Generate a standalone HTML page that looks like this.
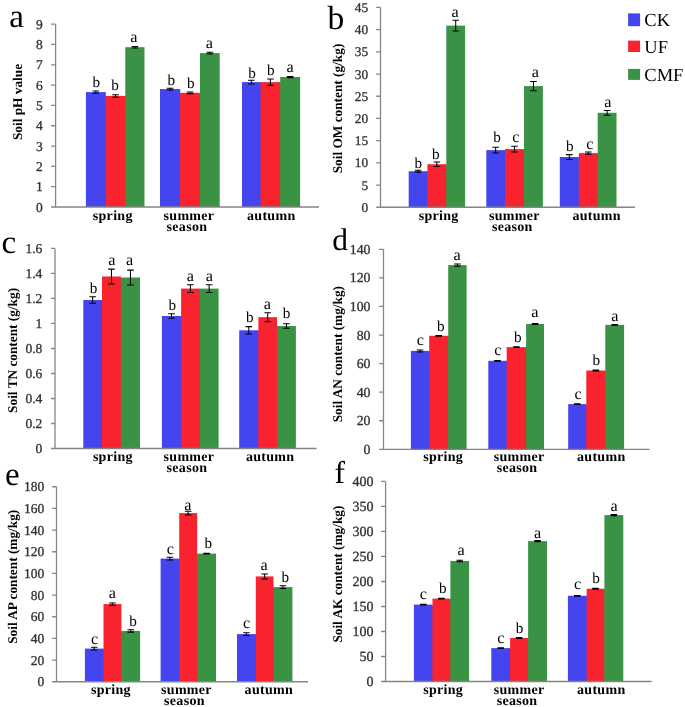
<!DOCTYPE html><html><head><meta charset="utf-8"><style>html,body{margin:0;padding:0;background:#fff;}svg{display:block;filter:blur(0.5px);}text{font-family:"Liberation Serif",serif;text-rendering:geometricPrecision;}</style></head><body>
<svg width="685" height="707" viewBox="0 0 685 707">
<rect width="685" height="707" fill="#fff"/>
<rect x="104.8" y="96.4" width="2" height="110.6" fill="#9E2C90"/>
<rect x="124.3" y="96.4" width="2" height="110.6" fill="#995B3A"/>
<rect x="85.9" y="92.1" width="19.9" height="114.9" fill="#4545F0"/>
<rect x="105.8" y="95.9" width="19.5" height="111.1" fill="#F8232F"/>
<rect x="125.3" y="47.2" width="19.2" height="159.8" fill="#3A9245"/>
<rect x="179.2" y="93.3" width="2" height="113.7" fill="#9E2C90"/>
<rect x="199" y="93.3" width="2" height="113.7" fill="#995B3A"/>
<rect x="160" y="89.05" width="20.2" height="117.95" fill="#4545F0"/>
<rect x="180.2" y="92.8" width="19.8" height="114.2" fill="#F8232F"/>
<rect x="200" y="53.1" width="19.7" height="153.9" fill="#3A9245"/>
<rect x="259.6" y="82.6" width="2" height="124.4" fill="#9E2C90"/>
<rect x="279.2" y="82.6" width="2" height="124.4" fill="#995B3A"/>
<rect x="242" y="82.1" width="18.6" height="124.9" fill="#4545F0"/>
<rect x="260.6" y="82.1" width="19.6" height="124.9" fill="#F8232F"/>
<rect x="280.2" y="77" width="19.9" height="130" fill="#3A9245"/>
<path d="M55.6 24.15V207" stroke="#858585" stroke-width="1.3" fill="none"/>
<path d="M51.1 207H319" stroke="#858585" stroke-width="1.3" fill="none"/>
<path d="M51.1 24.15H55.6M51.1 44.47H55.6M51.1 64.78H55.6M51.1 85.1H55.6M51.1 105.42H55.6M51.1 125.73H55.6M51.1 146.05H55.6M51.1 166.37H55.6M51.1 186.68H55.6" stroke="#858585" stroke-width="1.3" fill="none"/>
<text x="42.85" y="211.6" font-size="13.5" fill="#303030" stroke="#303030" stroke-width="0.3" text-anchor="end">0</text>
<text x="42.85" y="191.28" font-size="13.5" fill="#303030" stroke="#303030" stroke-width="0.3" text-anchor="end">1</text>
<text x="42.85" y="170.97" font-size="13.5" fill="#303030" stroke="#303030" stroke-width="0.3" text-anchor="end">2</text>
<text x="42.85" y="150.65" font-size="13.5" fill="#303030" stroke="#303030" stroke-width="0.3" text-anchor="end">3</text>
<text x="42.85" y="130.33" font-size="13.5" fill="#303030" stroke="#303030" stroke-width="0.3" text-anchor="end">4</text>
<text x="42.85" y="110.02" font-size="13.5" fill="#303030" stroke="#303030" stroke-width="0.3" text-anchor="end">5</text>
<text x="42.85" y="89.7" font-size="13.5" fill="#303030" stroke="#303030" stroke-width="0.3" text-anchor="end">6</text>
<text x="42.85" y="69.38" font-size="13.5" fill="#303030" stroke="#303030" stroke-width="0.3" text-anchor="end">7</text>
<text x="42.85" y="49.07" font-size="13.5" fill="#303030" stroke="#303030" stroke-width="0.3" text-anchor="end">8</text>
<text x="42.85" y="28.75" font-size="13.5" fill="#303030" stroke="#303030" stroke-width="0.3" text-anchor="end">9</text>
<path d="M95.85 90.9V93.3M92.55 90.9H99.15M92.55 93.3H99.15" stroke="#000" stroke-width="1.05" fill="none"/>
<text x="96.35" y="86.7" font-size="15.2" text-anchor="middle" fill="#000">b</text>
<path d="M115.55 94.65V97.15M112.25 94.65H118.85M112.25 97.15H118.85" stroke="#000" stroke-width="1.05" fill="none"/>
<text x="115" y="89.6" font-size="15.2" text-anchor="middle" fill="#000">b</text>
<path d="M134.9 46.4V48M131.6 46.4H138.2M131.6 48H138.2" stroke="#000" stroke-width="1.05" fill="none"/>
<text x="133.95" y="41.8" font-size="16.2" text-anchor="middle" fill="#000">a</text>
<path d="M170.1 88.15V89.95M166.8 88.15H173.4M166.8 89.95H173.4" stroke="#000" stroke-width="1.05" fill="none"/>
<text x="171.2" y="85.2" font-size="15.2" text-anchor="middle" fill="#000">b</text>
<path d="M190.1 92V93.6M186.8 92H193.4M186.8 93.6H193.4" stroke="#000" stroke-width="1.05" fill="none"/>
<text x="190.9" y="87.7" font-size="15.2" text-anchor="middle" fill="#000">b</text>
<path d="M209.85 52.2V54M206.55 52.2H213.15M206.55 54H213.15" stroke="#000" stroke-width="1.05" fill="none"/>
<text x="209.4" y="48.4" font-size="16.2" text-anchor="middle" fill="#000">a</text>
<path d="M251.3 80.3V83.9M248 80.3H254.6M248 83.9H254.6" stroke="#000" stroke-width="1.05" fill="none"/>
<text x="252" y="77.5" font-size="15.2" text-anchor="middle" fill="#000">b</text>
<path d="M270.4 78.9V85.3M267.1 78.9H273.7M267.1 85.3H273.7" stroke="#000" stroke-width="1.05" fill="none"/>
<text x="270.8" y="75.1" font-size="15.2" text-anchor="middle" fill="#000">b</text>
<path d="M290.15 76.4V77.6M286.85 76.4H293.45M286.85 77.6H293.45" stroke="#000" stroke-width="1.05" fill="none"/>
<text x="290.2" y="72.1" font-size="16.2" text-anchor="middle" fill="#000">a</text>
<text x="112.75" y="219.6" font-size="14" font-weight="bold" letter-spacing="0.3" text-anchor="middle" fill="#000">spring</text>
<text x="188.95" y="219.6" font-size="14" font-weight="bold" letter-spacing="0.3" text-anchor="middle" fill="#000">summer</text>
<text x="186.95" y="230.6" font-size="14" font-weight="bold" letter-spacing="0.3" text-anchor="middle" fill="#000">season</text>
<text x="271.25" y="219.6" font-size="14" font-weight="bold" letter-spacing="0.3" text-anchor="middle" fill="#000">autumn</text>
<text transform="translate(22 102) rotate(-90)" font-size="13.3" font-weight="bold" text-anchor="middle" fill="#000">Soil pH value</text>
<text x="9.3" y="26.5" font-size="33" fill="#000">a</text>
<rect x="426.4" y="171.7" width="2" height="35.55" fill="#9E2C90"/>
<rect x="445.3" y="164.7" width="2" height="42.55" fill="#995B3A"/>
<rect x="408.7" y="171.2" width="18.7" height="36.05" fill="#4545F0"/>
<rect x="427.4" y="164.2" width="18.9" height="43.05" fill="#F8232F"/>
<rect x="446.3" y="25.6" width="18.8" height="181.65" fill="#3A9245"/>
<rect x="504" y="150.6" width="2" height="56.65" fill="#9E2C90"/>
<rect x="523" y="149.6" width="2" height="57.65" fill="#995B3A"/>
<rect x="486.3" y="150.1" width="18.7" height="57.15" fill="#4545F0"/>
<rect x="505" y="149.1" width="19" height="58.15" fill="#F8232F"/>
<rect x="524" y="86.1" width="18.9" height="121.15" fill="#3A9245"/>
<rect x="577.9" y="157.5" width="2" height="49.75" fill="#9E2C90"/>
<rect x="596.7" y="153.6" width="2" height="53.65" fill="#995B3A"/>
<rect x="559.8" y="157" width="19.1" height="50.25" fill="#4545F0"/>
<rect x="578.9" y="153.1" width="18.8" height="54.15" fill="#F8232F"/>
<rect x="597.7" y="112.8" width="18.8" height="94.45" fill="#3A9245"/>
<path d="M380.5 7.45V207.25" stroke="#858585" stroke-width="1.3" fill="none"/>
<path d="M376.2 207.25H635" stroke="#858585" stroke-width="1.3" fill="none"/>
<path d="M376.2 7.45H380.5M376.2 29.65H380.5M376.2 51.85H380.5M376.2 74.05H380.5M376.2 96.25H380.5M376.2 118.45H380.5M376.2 140.65H380.5M376.2 162.85H380.5M376.2 185.05H380.5" stroke="#858585" stroke-width="1.3" fill="none"/>
<text x="368.05" y="211.85" font-size="13.3" fill="#303030" stroke="#303030" stroke-width="0.3" text-anchor="end">0</text>
<text x="368.05" y="189.65" font-size="13.3" fill="#303030" stroke="#303030" stroke-width="0.3" text-anchor="end">5</text>
<text x="368.05" y="167.45" font-size="13.3" fill="#303030" stroke="#303030" stroke-width="0.3" text-anchor="end">10</text>
<text x="368.05" y="145.25" font-size="13.3" fill="#303030" stroke="#303030" stroke-width="0.3" text-anchor="end">15</text>
<text x="368.05" y="123.05" font-size="13.3" fill="#303030" stroke="#303030" stroke-width="0.3" text-anchor="end">20</text>
<text x="368.05" y="100.85" font-size="13.3" fill="#303030" stroke="#303030" stroke-width="0.3" text-anchor="end">25</text>
<text x="368.05" y="78.65" font-size="13.3" fill="#303030" stroke="#303030" stroke-width="0.3" text-anchor="end">30</text>
<text x="368.05" y="56.45" font-size="13.3" fill="#303030" stroke="#303030" stroke-width="0.3" text-anchor="end">35</text>
<text x="368.05" y="34.25" font-size="13.3" fill="#303030" stroke="#303030" stroke-width="0.3" text-anchor="end">40</text>
<text x="368.05" y="12.05" font-size="13.3" fill="#303030" stroke="#303030" stroke-width="0.3" text-anchor="end">45</text>
<path d="M418.05 170.3V172.1M414.75 170.3H421.35M414.75 172.1H421.35" stroke="#000" stroke-width="1.05" fill="none"/>
<text x="418.4" y="167.6" font-size="15.2" text-anchor="middle" fill="#000">b</text>
<path d="M436.85 161.9V166.5M433.55 161.9H440.15M433.55 166.5H440.15" stroke="#000" stroke-width="1.05" fill="none"/>
<text x="435.9" y="158.6" font-size="15.2" text-anchor="middle" fill="#000">b</text>
<path d="M455.7 20.2V31M452.4 20.2H459M452.4 31H459" stroke="#000" stroke-width="1.05" fill="none"/>
<text x="455.1" y="17" font-size="16.2" text-anchor="middle" fill="#000">a</text>
<path d="M495.65 147.3V152.9M492.35 147.3H498.95M492.35 152.9H498.95" stroke="#000" stroke-width="1.05" fill="none"/>
<text x="497.1" y="142.2" font-size="15.2" text-anchor="middle" fill="#000">b</text>
<path d="M514.5 146.2V152M511.2 146.2H517.8M511.2 152H517.8" stroke="#000" stroke-width="1.05" fill="none"/>
<text x="515.95" y="141.9" font-size="16.2" text-anchor="middle" fill="#000">c</text>
<path d="M533.45 81.4V90.8M530.15 81.4H536.75M530.15 90.8H536.75" stroke="#000" stroke-width="1.05" fill="none"/>
<text x="535.25" y="77.1" font-size="16.2" text-anchor="middle" fill="#000">a</text>
<path d="M569.35 154.6V159.4M566.05 154.6H572.65M566.05 159.4H572.65" stroke="#000" stroke-width="1.05" fill="none"/>
<text x="569.85" y="151.2" font-size="15.2" text-anchor="middle" fill="#000">b</text>
<path d="M588.3 152V154.2M585 152H591.6M585 154.2H591.6" stroke="#000" stroke-width="1.05" fill="none"/>
<text x="589.8" y="148.5" font-size="16.2" text-anchor="middle" fill="#000">c</text>
<path d="M607.1 110.4V115.2M603.8 110.4H610.4M603.8 115.2H610.4" stroke="#000" stroke-width="1.05" fill="none"/>
<text x="607.8" y="107" font-size="16.2" text-anchor="middle" fill="#000">a</text>
<text x="438.65" y="219.6" font-size="14" font-weight="bold" letter-spacing="0.3" text-anchor="middle" fill="#000">spring</text>
<text x="514.35" y="219.6" font-size="14" font-weight="bold" letter-spacing="0.3" text-anchor="middle" fill="#000">summer</text>
<text x="512.35" y="230.6" font-size="14" font-weight="bold" letter-spacing="0.3" text-anchor="middle" fill="#000">season</text>
<text x="596.65" y="219.6" font-size="14" font-weight="bold" letter-spacing="0.3" text-anchor="middle" fill="#000">autumn</text>
<text transform="translate(342 108.5) rotate(-90)" font-size="13.3" font-weight="bold" text-anchor="middle" fill="#000">Soil OM content (g/kg)</text>
<text x="327.5" y="28.8" font-size="33.5" fill="#000">b</text>
<rect x="101" y="300.5" width="2" height="148" fill="#9E2C90"/>
<rect x="119.9" y="278" width="2" height="170.5" fill="#995B3A"/>
<rect x="83.3" y="300" width="18.7" height="148.5" fill="#4545F0"/>
<rect x="102" y="276.5" width="18.9" height="172" fill="#F8232F"/>
<rect x="120.9" y="277.5" width="19.1" height="171" fill="#3A9245"/>
<rect x="180.1" y="316.5" width="2" height="132" fill="#9E2C90"/>
<rect x="198.7" y="289.1" width="2" height="159.4" fill="#995B3A"/>
<rect x="161.9" y="316" width="19.2" height="132.5" fill="#4545F0"/>
<rect x="181.1" y="288.6" width="18.6" height="159.9" fill="#F8232F"/>
<rect x="199.7" y="288.6" width="18.9" height="159.9" fill="#3A9245"/>
<rect x="257.4" y="330.8" width="2" height="117.7" fill="#9E2C90"/>
<rect x="276" y="326.5" width="2" height="122" fill="#995B3A"/>
<rect x="239.2" y="330.3" width="19.2" height="118.2" fill="#4545F0"/>
<rect x="258.4" y="317.2" width="18.6" height="131.3" fill="#F8232F"/>
<rect x="277" y="326" width="18.9" height="122.5" fill="#3A9245"/>
<path d="M55 248.45V448.5" stroke="#858585" stroke-width="1.3" fill="none"/>
<path d="M51 448.5H316.6" stroke="#858585" stroke-width="1.3" fill="none"/>
<path d="M51 248.45H55M51 273.46H55M51 298.46H55M51 323.47H55M51 348.48H55M51 373.48H55M51 398.49H55M51 423.49H55" stroke="#858585" stroke-width="1.3" fill="none"/>
<text x="42.25" y="453.1" font-size="13.5" fill="#303030" stroke="#303030" stroke-width="0.3" text-anchor="end">0</text>
<text x="42.25" y="428.09" font-size="13.5" fill="#303030" stroke="#303030" stroke-width="0.3" text-anchor="end">0.2</text>
<text x="42.25" y="403.09" font-size="13.5" fill="#303030" stroke="#303030" stroke-width="0.3" text-anchor="end">0.4</text>
<text x="42.25" y="378.08" font-size="13.5" fill="#303030" stroke="#303030" stroke-width="0.3" text-anchor="end">0.6</text>
<text x="42.25" y="353.08" font-size="13.5" fill="#303030" stroke="#303030" stroke-width="0.3" text-anchor="end">0.8</text>
<text x="42.25" y="328.07" font-size="13.5" fill="#303030" stroke="#303030" stroke-width="0.3" text-anchor="end">1</text>
<text x="42.25" y="303.06" font-size="13.5" fill="#303030" stroke="#303030" stroke-width="0.3" text-anchor="end">1.2</text>
<text x="42.25" y="278.06" font-size="13.5" fill="#303030" stroke="#303030" stroke-width="0.3" text-anchor="end">1.4</text>
<text x="42.25" y="253.05" font-size="13.5" fill="#303030" stroke="#303030" stroke-width="0.3" text-anchor="end">1.6</text>
<path d="M92.65 296.8V303.2M89.35 296.8H95.95M89.35 303.2H95.95" stroke="#000" stroke-width="1.05" fill="none"/>
<text x="93.6" y="292.5" font-size="15.2" text-anchor="middle" fill="#000">b</text>
<path d="M111.45 269.1V283.9M108.15 269.1H114.75M108.15 283.9H114.75" stroke="#000" stroke-width="1.05" fill="none"/>
<text x="111.85" y="264.9" font-size="16.2" text-anchor="middle" fill="#000">a</text>
<path d="M130.45 270.1V284.9M127.15 270.1H133.75M127.15 284.9H133.75" stroke="#000" stroke-width="1.05" fill="none"/>
<text x="129.7" y="264.9" font-size="16.2" text-anchor="middle" fill="#000">a</text>
<path d="M171.5 313.7V318.3M168.2 313.7H174.8M168.2 318.3H174.8" stroke="#000" stroke-width="1.05" fill="none"/>
<text x="172.4" y="310.1" font-size="15.2" text-anchor="middle" fill="#000">b</text>
<path d="M190.4 284.8V292.4M187.1 284.8H193.7M187.1 292.4H193.7" stroke="#000" stroke-width="1.05" fill="none"/>
<text x="190.4" y="280.6" font-size="16.2" text-anchor="middle" fill="#000">a</text>
<path d="M209.15 284.8V292.4M205.85 284.8H212.45M205.85 292.4H212.45" stroke="#000" stroke-width="1.05" fill="none"/>
<text x="209.25" y="280.6" font-size="16.2" text-anchor="middle" fill="#000">a</text>
<path d="M248.8 326.6V334M245.5 326.6H252.1M245.5 334H252.1" stroke="#000" stroke-width="1.05" fill="none"/>
<text x="249.9" y="321.6" font-size="15.2" text-anchor="middle" fill="#000">b</text>
<path d="M267.7 312.7V321.7M264.4 312.7H271M264.4 321.7H271" stroke="#000" stroke-width="1.05" fill="none"/>
<text x="267.25" y="308.5" font-size="16.2" text-anchor="middle" fill="#000">a</text>
<path d="M286.45 323.8V328.2M283.15 323.8H289.75M283.15 328.2H289.75" stroke="#000" stroke-width="1.05" fill="none"/>
<text x="286.55" y="318.2" font-size="15.2" text-anchor="middle" fill="#000">b</text>
<text x="112.85" y="461" font-size="14" font-weight="bold" letter-spacing="0.3" text-anchor="middle" fill="#000">spring</text>
<text x="188.95" y="461" font-size="14" font-weight="bold" letter-spacing="0.3" text-anchor="middle" fill="#000">summer</text>
<text x="186.95" y="472" font-size="14" font-weight="bold" letter-spacing="0.3" text-anchor="middle" fill="#000">season</text>
<text x="270.15" y="461" font-size="14" font-weight="bold" letter-spacing="0.3" text-anchor="middle" fill="#000">autumn</text>
<text transform="translate(17 350.4) rotate(-90)" font-size="13.3" font-weight="bold" text-anchor="middle" fill="#000">Soil TN content (g/kg)</text>
<text x="1.6" y="253.2" font-size="33" fill="#000">c</text>
<rect x="428.2" y="351.4" width="2" height="97.95" fill="#9E2C90"/>
<rect x="447.2" y="336.3" width="2" height="113.05" fill="#995B3A"/>
<rect x="410.9" y="350.9" width="18.3" height="98.45" fill="#4545F0"/>
<rect x="429.2" y="335.8" width="19" height="113.55" fill="#F8232F"/>
<rect x="448.2" y="265.1" width="18.4" height="184.25" fill="#3A9245"/>
<rect x="505.7" y="361.3" width="2" height="88.05" fill="#9E2C90"/>
<rect x="525.1" y="347.6" width="2" height="101.75" fill="#995B3A"/>
<rect x="488.3" y="360.8" width="18.4" height="88.55" fill="#4545F0"/>
<rect x="506.7" y="347.1" width="19.4" height="102.25" fill="#F8232F"/>
<rect x="526.1" y="324" width="17.9" height="125.35" fill="#3A9245"/>
<rect x="585.3" y="404.6" width="2" height="44.75" fill="#9E2C90"/>
<rect x="604.3" y="371" width="2" height="78.35" fill="#995B3A"/>
<rect x="568.2" y="404.1" width="18.1" height="45.25" fill="#4545F0"/>
<rect x="586.3" y="370.5" width="19" height="78.85" fill="#F8232F"/>
<rect x="605.3" y="324.9" width="18.8" height="124.45" fill="#3A9245"/>
<path d="M383.5 249.3V449.35" stroke="#858585" stroke-width="1.3" fill="none"/>
<path d="M379.1 449.35H649.6" stroke="#858585" stroke-width="1.3" fill="none"/>
<path d="M379.1 249.3H383.5M379.1 277.88H383.5M379.1 306.46H383.5M379.1 335.04H383.5M379.1 363.61H383.5M379.1 392.19H383.5M379.1 420.77H383.5" stroke="#858585" stroke-width="1.3" fill="none"/>
<text x="370.45" y="453.95" font-size="13.8" fill="#303030" stroke="#303030" stroke-width="0.3" text-anchor="end">0</text>
<text x="370.45" y="425.37" font-size="13.8" fill="#303030" stroke="#303030" stroke-width="0.3" text-anchor="end">20</text>
<text x="370.45" y="396.79" font-size="13.8" fill="#303030" stroke="#303030" stroke-width="0.3" text-anchor="end">40</text>
<text x="370.45" y="368.21" font-size="13.8" fill="#303030" stroke="#303030" stroke-width="0.3" text-anchor="end">60</text>
<text x="370.45" y="339.64" font-size="13.8" fill="#303030" stroke="#303030" stroke-width="0.3" text-anchor="end">80</text>
<text x="370.45" y="311.06" font-size="13.8" fill="#303030" stroke="#303030" stroke-width="0.3" text-anchor="end">100</text>
<text x="370.45" y="282.48" font-size="13.8" fill="#303030" stroke="#303030" stroke-width="0.3" text-anchor="end">120</text>
<text x="370.45" y="253.9" font-size="13.8" fill="#303030" stroke="#303030" stroke-width="0.3" text-anchor="end">140</text>
<path d="M420.05 349.9V351.9M416.75 349.9H423.35M416.75 351.9H423.35" stroke="#000" stroke-width="1.05" fill="none"/>
<text x="420.25" y="344.5" font-size="16.2" text-anchor="middle" fill="#000">c</text>
<path d="M438.7 335.4V336.2M435.4 335.4H442M435.4 336.2H442" stroke="#000" stroke-width="1.05" fill="none"/>
<text x="440.8" y="331.2" font-size="15.2" text-anchor="middle" fill="#000">b</text>
<path d="M457.4 264V266.2M454.1 264H460.7M454.1 266.2H460.7" stroke="#000" stroke-width="1.05" fill="none"/>
<text x="457.05" y="259.8" font-size="16.2" text-anchor="middle" fill="#000">a</text>
<path d="M497.5 360.4V361.2M494.2 360.4H500.8M494.2 361.2H500.8" stroke="#000" stroke-width="1.05" fill="none"/>
<text x="497.95" y="354.7" font-size="16.2" text-anchor="middle" fill="#000">c</text>
<path d="M516.4 346.7V347.5M513.1 346.7H519.7M513.1 347.5H519.7" stroke="#000" stroke-width="1.05" fill="none"/>
<text x="517.75" y="342.4" font-size="15.2" text-anchor="middle" fill="#000">b</text>
<path d="M535.05 323.6V324.4M531.75 323.6H538.35M531.75 324.4H538.35" stroke="#000" stroke-width="1.05" fill="none"/>
<text x="534.8" y="317.2" font-size="16.2" text-anchor="middle" fill="#000">a</text>
<path d="M577.25 403.7V404.5M573.95 403.7H580.55M573.95 404.5H580.55" stroke="#000" stroke-width="1.05" fill="none"/>
<text x="578.05" y="399.3" font-size="16.2" text-anchor="middle" fill="#000">c</text>
<path d="M595.8 370.1V370.9M592.5 370.1H599.1M592.5 370.9H599.1" stroke="#000" stroke-width="1.05" fill="none"/>
<text x="596.35" y="365.4" font-size="15.2" text-anchor="middle" fill="#000">b</text>
<path d="M614.7 324.5V325.3M611.4 324.5H618M611.4 325.3H618" stroke="#000" stroke-width="1.05" fill="none"/>
<text x="614.8" y="321.2" font-size="16.2" text-anchor="middle" fill="#000">a</text>
<text x="443.15" y="461" font-size="14" font-weight="bold" letter-spacing="0.3" text-anchor="middle" fill="#000">spring</text>
<text x="519.05" y="461" font-size="14" font-weight="bold" letter-spacing="0.3" text-anchor="middle" fill="#000">summer</text>
<text x="517.05" y="472" font-size="14" font-weight="bold" letter-spacing="0.3" text-anchor="middle" fill="#000">season</text>
<text x="601.25" y="461" font-size="14" font-weight="bold" letter-spacing="0.3" text-anchor="middle" fill="#000">autumn</text>
<text transform="translate(342 354.2) rotate(-90)" font-size="13.3" font-weight="bold" text-anchor="middle" fill="#000">Soil AN content (mg/kg)</text>
<text x="332.2" y="250.2" font-size="31.5" fill="#000">d</text>
<rect x="102.5" y="649.1" width="2" height="32.65" fill="#9E2C90"/>
<rect x="120.4" y="631.4" width="2" height="50.35" fill="#995B3A"/>
<rect x="84.9" y="648.6" width="18.6" height="33.15" fill="#4545F0"/>
<rect x="103.5" y="604.1" width="17.9" height="77.65" fill="#F8232F"/>
<rect x="121.4" y="630.9" width="18.7" height="50.85" fill="#3A9245"/>
<rect x="178.2" y="559.1" width="2" height="122.65" fill="#9E2C90"/>
<rect x="196.1" y="554.1" width="2" height="127.65" fill="#995B3A"/>
<rect x="160.6" y="558.6" width="18.6" height="123.15" fill="#4545F0"/>
<rect x="179.2" y="513.1" width="17.9" height="168.65" fill="#F8232F"/>
<rect x="197.1" y="553.6" width="18.9" height="128.15" fill="#3A9245"/>
<rect x="254.8" y="634.6" width="2" height="47.15" fill="#9E2C90"/>
<rect x="272.5" y="587.6" width="2" height="94.15" fill="#995B3A"/>
<rect x="237" y="634.1" width="18.8" height="47.65" fill="#4545F0"/>
<rect x="255.8" y="576.4" width="17.7" height="105.35" fill="#F8232F"/>
<rect x="273.5" y="587.1" width="18.9" height="94.65" fill="#3A9245"/>
<path d="M56.5 486.74V681.75" stroke="#858585" stroke-width="1.3" fill="none"/>
<path d="M52.15 681.75H308" stroke="#858585" stroke-width="1.3" fill="none"/>
<path d="M52.15 486.74H56.5M52.15 508.41H56.5M52.15 530.08H56.5M52.15 551.74H56.5M52.15 573.41H56.5M52.15 595.08H56.5M52.15 616.75H56.5M52.15 638.41H56.5M52.15 660.08H56.5" stroke="#858585" stroke-width="1.3" fill="none"/>
<text x="44.25" y="686.35" font-size="13.5" fill="#303030" stroke="#303030" stroke-width="0.3" text-anchor="end">0</text>
<text x="44.25" y="664.68" font-size="13.5" fill="#303030" stroke="#303030" stroke-width="0.3" text-anchor="end">20</text>
<text x="44.25" y="643.01" font-size="13.5" fill="#303030" stroke="#303030" stroke-width="0.3" text-anchor="end">40</text>
<text x="44.25" y="621.35" font-size="13.5" fill="#303030" stroke="#303030" stroke-width="0.3" text-anchor="end">60</text>
<text x="44.25" y="599.68" font-size="13.5" fill="#303030" stroke="#303030" stroke-width="0.3" text-anchor="end">80</text>
<text x="44.25" y="578.01" font-size="13.5" fill="#303030" stroke="#303030" stroke-width="0.3" text-anchor="end">100</text>
<text x="44.25" y="556.34" font-size="13.5" fill="#303030" stroke="#303030" stroke-width="0.3" text-anchor="end">120</text>
<text x="44.25" y="534.68" font-size="13.5" fill="#303030" stroke="#303030" stroke-width="0.3" text-anchor="end">140</text>
<text x="44.25" y="513.01" font-size="13.5" fill="#303030" stroke="#303030" stroke-width="0.3" text-anchor="end">160</text>
<text x="44.25" y="491.34" font-size="13.5" fill="#303030" stroke="#303030" stroke-width="0.3" text-anchor="end">180</text>
<path d="M94.2 647.3V649.9M90.9 647.3H97.5M90.9 649.9H97.5" stroke="#000" stroke-width="1.05" fill="none"/>
<text x="94.55" y="643.8" font-size="16.2" text-anchor="middle" fill="#000">c</text>
<path d="M112.45 602.9V605.3M109.15 602.9H115.75M109.15 605.3H115.75" stroke="#000" stroke-width="1.05" fill="none"/>
<text x="112.45" y="598.4" font-size="16.2" text-anchor="middle" fill="#000">a</text>
<path d="M130.75 629.7V632.1M127.45 629.7H134.05M127.45 632.1H134.05" stroke="#000" stroke-width="1.05" fill="none"/>
<text x="133" y="625.5" font-size="15.2" text-anchor="middle" fill="#000">b</text>
<path d="M169.9 557.3V559.9M166.6 557.3H173.2M166.6 559.9H173.2" stroke="#000" stroke-width="1.05" fill="none"/>
<text x="170.25" y="554" font-size="16.2" text-anchor="middle" fill="#000">c</text>
<path d="M188.15 511.3V514.9M184.85 511.3H191.45M184.85 514.9H191.45" stroke="#000" stroke-width="1.05" fill="none"/>
<text x="187.8" y="509.5" font-size="16.2" text-anchor="middle" fill="#000">a</text>
<path d="M206.55 553.2V554M203.25 553.2H209.85M203.25 554H209.85" stroke="#000" stroke-width="1.05" fill="none"/>
<text x="208.4" y="548.3" font-size="15.2" text-anchor="middle" fill="#000">b</text>
<path d="M246.4 632.7V635.5M243.1 632.7H249.7M243.1 635.5H249.7" stroke="#000" stroke-width="1.05" fill="none"/>
<text x="246.7" y="628.1" font-size="16.2" text-anchor="middle" fill="#000">c</text>
<path d="M264.65 573.9V578.9M261.35 573.9H267.95M261.35 578.9H267.95" stroke="#000" stroke-width="1.05" fill="none"/>
<text x="264.2" y="569.8" font-size="16.2" text-anchor="middle" fill="#000">a</text>
<path d="M282.95 585.8V588.4M279.65 585.8H286.25M279.65 588.4H286.25" stroke="#000" stroke-width="1.05" fill="none"/>
<text x="285.3" y="581.7" font-size="15.2" text-anchor="middle" fill="#000">b</text>
<text x="110.95" y="694" font-size="14" font-weight="bold" letter-spacing="0.3" text-anchor="middle" fill="#000">spring</text>
<text x="186.45" y="694" font-size="14" font-weight="bold" letter-spacing="0.3" text-anchor="middle" fill="#000">summer</text>
<text x="184.45" y="705" font-size="14" font-weight="bold" letter-spacing="0.3" text-anchor="middle" fill="#000">season</text>
<text x="268.85" y="694" font-size="14" font-weight="bold" letter-spacing="0.3" text-anchor="middle" fill="#000">autumn</text>
<text transform="translate(17 576.8) rotate(-90)" font-size="13.3" font-weight="bold" text-anchor="middle" fill="#000">Soil AP content (mg/kg)</text>
<text x="5" y="484.6" font-size="33" fill="#000">e</text>
<rect x="431.5" y="605.1" width="2" height="76.4" fill="#9E2C90"/>
<rect x="449.4" y="599.1" width="2" height="82.4" fill="#995B3A"/>
<rect x="413.9" y="604.6" width="18.6" height="76.9" fill="#4545F0"/>
<rect x="432.5" y="598.6" width="17.9" height="82.9" fill="#F8232F"/>
<rect x="450.4" y="561" width="18.7" height="120.5" fill="#3A9245"/>
<rect x="509.1" y="648.6" width="2" height="32.9" fill="#9E2C90"/>
<rect x="527.1" y="638.5" width="2" height="43" fill="#995B3A"/>
<rect x="491.3" y="648.1" width="18.8" height="33.4" fill="#4545F0"/>
<rect x="510.1" y="638" width="18" height="43.5" fill="#F8232F"/>
<rect x="528.1" y="541.1" width="18.9" height="140.4" fill="#3A9245"/>
<rect x="585.7" y="596.3" width="2" height="85.2" fill="#9E2C90"/>
<rect x="603.4" y="589.2" width="2" height="92.3" fill="#995B3A"/>
<rect x="567.9" y="595.8" width="18.8" height="85.7" fill="#4545F0"/>
<rect x="586.7" y="588.7" width="17.7" height="92.8" fill="#F8232F"/>
<rect x="604.4" y="515.1" width="18.9" height="166.4" fill="#3A9245"/>
<path d="M385.6 481.45V681.5" stroke="#858585" stroke-width="1.3" fill="none"/>
<path d="M381.1 681.5H651.6" stroke="#858585" stroke-width="1.3" fill="none"/>
<path d="M381.1 481.45H385.6M381.1 506.46H385.6M381.1 531.46H385.6M381.1 556.47H385.6M381.1 581.48H385.6M381.1 606.48H385.6M381.1 631.49H385.6M381.1 656.49H385.6" stroke="#858585" stroke-width="1.3" fill="none"/>
<text x="373.55" y="686.1" font-size="14" fill="#303030" stroke="#303030" stroke-width="0.3" text-anchor="end">0</text>
<text x="373.55" y="661.09" font-size="14" fill="#303030" stroke="#303030" stroke-width="0.3" text-anchor="end">50</text>
<text x="373.55" y="636.09" font-size="14" fill="#303030" stroke="#303030" stroke-width="0.3" text-anchor="end">100</text>
<text x="373.55" y="611.08" font-size="14" fill="#303030" stroke="#303030" stroke-width="0.3" text-anchor="end">150</text>
<text x="373.55" y="586.08" font-size="14" fill="#303030" stroke="#303030" stroke-width="0.3" text-anchor="end">200</text>
<text x="373.55" y="561.07" font-size="14" fill="#303030" stroke="#303030" stroke-width="0.3" text-anchor="end">250</text>
<text x="373.55" y="536.06" font-size="14" fill="#303030" stroke="#303030" stroke-width="0.3" text-anchor="end">300</text>
<text x="373.55" y="511.06" font-size="14" fill="#303030" stroke="#303030" stroke-width="0.3" text-anchor="end">350</text>
<text x="373.55" y="486.05" font-size="14" fill="#303030" stroke="#303030" stroke-width="0.3" text-anchor="end">400</text>
<path d="M423.2 604.2V605M419.9 604.2H426.5M419.9 605H426.5" stroke="#000" stroke-width="1.05" fill="none"/>
<text x="423.45" y="599.4" font-size="16.2" text-anchor="middle" fill="#000">c</text>
<path d="M441.45 598.2V599M438.15 598.2H444.75M438.15 599H444.75" stroke="#000" stroke-width="1.05" fill="none"/>
<text x="442.9" y="593.2" font-size="15.2" text-anchor="middle" fill="#000">b</text>
<path d="M459.75 560.2V561.8M456.45 560.2H463.05M456.45 561.8H463.05" stroke="#000" stroke-width="1.05" fill="none"/>
<text x="461.05" y="555.2" font-size="16.2" text-anchor="middle" fill="#000">a</text>
<path d="M500.7 647.7V648.5M497.4 647.7H504M497.4 648.5H504" stroke="#000" stroke-width="1.05" fill="none"/>
<text x="500.9" y="643.4" font-size="16.2" text-anchor="middle" fill="#000">c</text>
<path d="M519.1 637.6V638.4M515.8 637.6H522.4M515.8 638.4H522.4" stroke="#000" stroke-width="1.05" fill="none"/>
<text x="519.6" y="632.7" font-size="15.2" text-anchor="middle" fill="#000">b</text>
<path d="M537.55 540.6V541.6M534.25 540.6H540.85M534.25 541.6H540.85" stroke="#000" stroke-width="1.05" fill="none"/>
<text x="537.65" y="537.7" font-size="16.2" text-anchor="middle" fill="#000">a</text>
<path d="M577.3 595.4V596.2M574 595.4H580.6M574 596.2H580.6" stroke="#000" stroke-width="1.05" fill="none"/>
<text x="577.55" y="589.4" font-size="16.2" text-anchor="middle" fill="#000">c</text>
<path d="M595.55 588.3V589.1M592.25 588.3H598.85M592.25 589.1H598.85" stroke="#000" stroke-width="1.05" fill="none"/>
<text x="595.95" y="582.5" font-size="15.2" text-anchor="middle" fill="#000">b</text>
<path d="M613.85 514.6V515.6M610.55 514.6H617.15M610.55 515.6H617.15" stroke="#000" stroke-width="1.05" fill="none"/>
<text x="614.2" y="511" font-size="16.2" text-anchor="middle" fill="#000">a</text>
<text x="443.15" y="694" font-size="14" font-weight="bold" letter-spacing="0.3" text-anchor="middle" fill="#000">spring</text>
<text x="519.05" y="694" font-size="14" font-weight="bold" letter-spacing="0.3" text-anchor="middle" fill="#000">summer</text>
<text x="517.05" y="705" font-size="14" font-weight="bold" letter-spacing="0.3" text-anchor="middle" fill="#000">season</text>
<text x="601.25" y="694" font-size="14" font-weight="bold" letter-spacing="0.3" text-anchor="middle" fill="#000">autumn</text>
<text transform="translate(342 574.1) rotate(-90)" font-size="13.3" font-weight="bold" text-anchor="middle" fill="#000">Soil AK content (mg/kg)</text>
<text x="334.4" y="482.7" font-size="31.5" fill="#000">f</text>
<rect x="628.1" y="13.4" width="12" height="12.8" fill="#4545F0"/>
<text x="644.3" y="25.9" font-size="18.5" fill="#000">CK</text>
<rect x="628.1" y="40.6" width="12" height="11.4" fill="#F8232F"/>
<text x="644.3" y="53" font-size="18.5" fill="#000">UF</text>
<rect x="628.1" y="68.9" width="12" height="11" fill="#3A9245"/>
<text x="644.3" y="81" font-size="18.5" fill="#000">CMF</text>
</svg></body></html>
